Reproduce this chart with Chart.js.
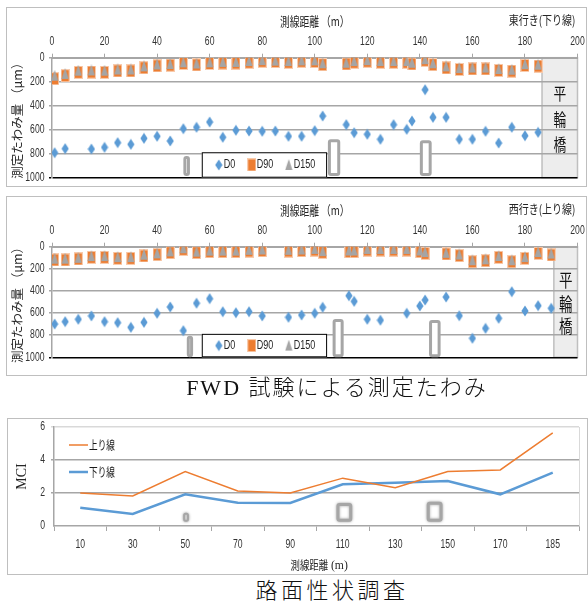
<!DOCTYPE html>
<html>
<head>
<meta charset="utf-8">
<script src="https://cdn.jsdelivr.net/npm/chart.js@4.4.1/dist/chart.umd.min.js"></script>
<style>
  body { margin: 0; background: #fff; width: 588px; height: 605px; position: relative; overflow: hidden; }
  .panel { position: absolute; border: 1px solid #BFBFBF; box-sizing: border-box; }
  canvas { position: absolute; }
  .caption { position: absolute; width: 400px; text-align: center; font-size: 22px; line-height: 24px;
             font-family: "Liberation Serif", "Noto Sans CJK JP", serif; font-weight: 300; color: #111; white-space: nowrap; }
</style>
</head>
<body>
<div class="panel" style="left:6px;top:7px;width:581px;height:180px"></div>
<canvas id="east" width="580" height="180" style="left:6px;top:7px"></canvas>
<div class="panel" style="left:6px;top:196px;width:581px;height:180px"></div>
<canvas id="west" width="580" height="180" style="left:6px;top:196px"></canvas>
<div class="caption" style="left:137px;top:376px;letter-spacing:2px">FWD 試験による測定たわみ</div>
<div class="panel" style="left:7px;top:418px;width:581px;height:157px"></div>
<canvas id="mci" width="580" height="157" style="left:7px;top:418px"></canvas>
<div class="caption" style="left:132px;top:579px;letter-spacing:3.5px">路面性状調査</div>

<script>
// ---- 東行き(下り線) ----
const eastD0X = [1, 5, 15, 20, 25, 30, 35, 40, 45, 50, 55, 60, 65, 70, 75, 80, 85, 90, 95, 100,
                 103, 112, 115, 120, 125, 130, 135, 137, 142, 145, 150, 155, 160, 165, 170, 175, 180, 185];
const eastD0 = [792, 758, 761, 747, 708, 722, 672, 655, 694, 592, 580, 536, 663, 605, 611, 613, 611, 655, 655, 608,
                486, 558, 625, 638, 680, 558, 597, 528, 267, 497, 497, 680, 680, 613, 711, 580, 650, 622];
const eastDX = [1, 5, 10, 15, 20, 25, 30, 35, 40, 45, 50, 55, 60, 65, 70, 75, 80, 85, 90, 95, 100,
                103, 112, 115, 120, 125, 130, 135, 137, 142, 145, 150, 155, 160, 165, 170, 175, 180, 185];
const eastD90 = [175, 150, 122, 120, 122, 110, 110, 84, 68, 62, 48, 60, 48, 45, 45, 38, 30, 32, 38, 30, 32,
                 58, 52, 38, 30, 38, 38, 38, 52, 22, 58, 85, 98, 94, 94, 106, 112, 65, 70];
const eastD150 = [150, 135, 108, 106, 108, 98, 98, 72, 56, 52, 38, 48, 38, 35, 35, 28, 20, 24, 28, 22, 22,
                  46, 42, 28, 20, 28, 28, 28, 42, 12, 46, 72, 86, 82, 82, 94, 100, 54, 58];
// gray marks: [x from, x to, y from, y to]
const eastMarks = [[50, 52.5, 820, 985], [105, 109.7, 680, 985], [140, 144.5, 688, 985]];
const eastBridgeFrom = 186.5;

// ---- 西行き(上り線) ----
const westD0X = [1, 5, 10, 15, 20, 25, 30, 35, 40, 45, 50, 55, 60, 65, 70, 75, 80, 90, 95, 100,
                 103, 113, 115, 120, 125, 135, 140, 142, 150, 155, 160, 165, 170, 175, 180, 185, 190];
const westD0 = [699, 678, 656, 626, 678, 687, 729, 684, 602, 545, 759, 511, 470, 588, 597, 588, 626, 638, 618, 602,
                548, 443, 494, 656, 665, 602, 536, 482, 455, 624, 828, 738, 647, 407, 581, 533, 557];
const westDX = [1, 5, 10, 15, 20, 25, 30, 35, 40, 45, 50, 55, 60, 65, 70, 75, 80, 90, 95, 100,
                103, 113, 115, 120, 125, 130, 135, 140, 142, 150, 155, 160, 165, 170, 175, 180, 185, 190];
const westD90 = [120, 120, 111, 96, 96, 105, 105, 84, 72, 54, 24, 54, 45, 45, 45, 39, 36, 39, 36, 30,
                 51, 45, 45, 30, 30, 30, 30, 45, 60, 66, 81, 136, 127, 96, 136, 105, 60, 75];
const westD150 = [108, 108, 100, 85, 85, 94, 94, 72, 60, 42, 14, 44, 35, 35, 35, 28, 25, 28, 25, 20,
                  40, 34, 34, 20, 20, 20, 20, 34, 48, 55, 70, 122, 114, 84, 122, 94, 48, 62];
const westMarks = [[51.3, 53.7, 805, 1000], [106.8, 111, 654, 1000], [143.5, 147.9, 663, 1000]];
const westBridgeFrom = 191;

const fwdLegendBox = [57, 104.7, 788, 1000];
const bridgeName = ['平', '輪', '橋'];

// ---- 路面性状調査 ----
const mciLabels = ['10', '30', '50', '70', '90', '110', '130', '150', '170', '185'];
const mciUp = [2.0, 1.82, 3.3, 2.12, 2.0, 2.9, 2.32, 3.3, 3.4, 5.65];
const mciDown = [1.1, 0.73, 1.92, 1.41, 1.4, 2.53, 2.62, 2.72, 1.92, 3.23];
const mciMarks = [[1.96, 2.07, 0.26, 0.81], [4.88, 5.18, 0.26, 1.39], [6.6, 6.9, 0.26, 1.47]];

const BLUE = '#5B9BD5', ORANGE = '#ED7D31', GRAY = '#A5A5A5';
const JP = '"Noto Sans CJK JP", sans-serif';
const NUM = '"Liberation Sans", Arial, sans-serif';

Chart.defaults.font.family = NUM;
Chart.defaults.font.size = 12;
Chart.defaults.color = '#333333';
Chart.defaults.animation = false;

function makeMarker(kind) {
    const c = document.createElement('canvas');
    const g = c.getContext('2d');
    if (kind === 'diamond') {
        c.width = 8; c.height = 12;
        g.fillStyle = BLUE;
        g.beginPath(); g.moveTo(4, 0.5); g.lineTo(7.6, 6); g.lineTo(4, 11.5); g.lineTo(0.4, 6); g.closePath(); g.fill();
    } else if (kind === 'square') {
        c.width = 9; c.height = 13;
        g.fillStyle = '#F8CBAD'; g.fillRect(0, 0, 9, 13);
        g.fillStyle = ORANGE; g.fillRect(1, 1, 7, 11);
    } else {
        c.width = 8; c.height = 12;
        g.fillStyle = GRAY;
        g.beginPath(); g.moveTo(4, 0); g.lineTo(7.6, 11); g.lineTo(0.4, 11); g.closePath(); g.fill();
    }
    return c;
}
const diamond = makeMarker('diamond');
const square = makeMarker('square');
const triangle = makeMarker('triangle');

// draws horizontally squeezed text (the source figure is narrow)
function squeezeText(ctx, text, x, y, font, color, align, sx) {
    ctx.save();
    ctx.font = font;
    ctx.fillStyle = color;
    ctx.textBaseline = 'middle';
    ctx.textAlign = 'left';
    const w = ctx.measureText(text).width * sx;
    const left = align === 'center' ? x - w / 2 : align === 'right' ? x - w : x;
    ctx.translate(left, y);
    ctx.scale(sx, 1);
    ctx.fillText(text, 0, 0);
    ctx.restore();
    return w;
}

// tick labels drawn from the scale's own ticks, in a narrow face
function tickLabels(ctx, scale, posFn, align, labelFn) {
    scale.ticks.forEach(t => {
        const p = scale.getPixelForValue(t.value);
        const [px, py] = posFn(p);
        squeezeText(ctx, labelFn(t.value), px, py, '12px ' + NUM, '#333333', align, 0.72);
    });
}

function drawMark(ctx, xs, ys, m, lw) {
    const l = xs.getPixelForValue(m[0]), r = xs.getPixelForValue(m[1]);
    const a = ys.getPixelForValue(m[2]), b = ys.getPixelForValue(m[3]);
    const t = Math.min(a, b), h = Math.abs(b - a);
    ctx.save();
    ctx.fillStyle = '#FFFFFF';
    ctx.strokeStyle = '#A6A6A6';
    ctx.lineWidth = lw;
    ctx.beginPath();
    ctx.roundRect(l + lw / 2, t + lw / 2, r - l - lw, h - lw, 1.5);
    ctx.fill();
    ctx.stroke();
    ctx.restore();
}

function fwdDecor(marks, bridgeFrom, direction, bridgeSize) {
    return {
        id: 'fwdDecor',
        beforeDraw(chart) {
            const {ctx, chartArea: a, scales: {x}} = chart;
            const bx = x.getPixelForValue(bridgeFrom);
            ctx.save();
            ctx.fillStyle = '#EDEDED';
            ctx.fillRect(bx, a.top, a.right - bx, a.bottom - a.top);
            ctx.strokeStyle = '#BFBFBF';
            ctx.lineWidth = 1.5;
            ctx.strokeRect(bx, a.top, a.right - bx, a.bottom - a.top);
            ctx.restore();
        },
        beforeDatasetsDraw(chart) {
            const {ctx, scales: {x, y}} = chart;
            marks.forEach(m => drawMark(ctx, x, y, m, 3));
        },
        afterDraw(chart) {
            const {ctx, chartArea: a, scales: {x, y}} = chart;
            tickLabels(ctx, x, p => [p, a.top - 16], 'center', v => String(v));
            tickLabels(ctx, y, p => [a.left - 7.5, p], 'right', v => String(v));
            // legend box
            const l = x.getPixelForValue(fwdLegendBox[0]), r = x.getPixelForValue(fwdLegendBox[1]);
            const t = y.getPixelForValue(fwdLegendBox[2]), b = y.getPixelForValue(fwdLegendBox[3]);
            ctx.save();
            ctx.fillStyle = '#FFFFFF';
            ctx.fillRect(l, t, r - l, b - t);
            ctx.strokeStyle = '#000000';
            ctx.lineWidth = 1;
            ctx.strokeRect(l + 0.5, t + 0.5, r - l - 1, b - t - 1);
            ctx.restore();
            const cy = (t + b) / 2;
            const items = [[diamond, 'D0', 17], [square, 'D90', 50], [triangle, 'D150', 87]];
            items.forEach(([img, name, dx]) => {
                ctx.drawImage(img, l + dx - img.width / 2, cy - img.height / 2);
                squeezeText(ctx, name, l + dx + 5, cy, '12px ' + NUM, '#262626', 'left', 0.75);
            });
            // bridge label
            const bx = (x.getPixelForValue(bridgeFrom) + a.right) / 2;
            const h = a.bottom - a.top;
            [0.30, 0.515, 0.72].forEach((f, i) => {
                squeezeText(ctx, bridgeName[i], bx, a.top + h * f, bridgeSize + 'px ' + JP, '#111111', 'center', 0.75);
            });
            // top titles
            squeezeText(ctx, '測線距離 （m）', (a.left + a.right) / 2, a.top - 37, '13px ' + JP, '#262626', 'center', 0.75);
            squeezeText(ctx, direction, a.right - 2, a.top - 37, '12.5px ' + JP, '#262626', 'right', 0.8);
        }
    };
}

const pts = (xs, ys) => xs.map((v, i) => ({x: v, y: ys[i]}));

function fwdChart(id, d0x, d0, dx, d90, d150, marks, bridgeFrom, direction, bottomPad, bridgeSize) {
    new Chart(document.getElementById(id), {
        type: 'scatter',
        data: {
            datasets: [
                {label: 'D0', data: pts(d0x, d0), pointStyle: diamond, pointRadius: 5, order: 2},
                {label: 'D90', data: pts(dx, d90), pointStyle: square, pointRadius: 5, order: 1},
                {label: 'D150', data: pts(dx, d150), pointStyle: triangle, pointRadius: 5, order: 0}
            ]
        },
        options: {
            responsive: false,
            devicePixelRatio: 1,
            layout: {padding: {left: 0, top: 0, right: 8.5, bottom: bottomPad}},
            plugins: {legend: {display: false}, tooltip: {enabled: false}},
            scales: {
                x: {
                    type: 'linear', position: 'top', min: 0, max: 200,
                    ticks: {stepSize: 20, display: false},
                    grid: {drawOnChartArea: false, tickLength: 4, color: '#A6A6A6'},
                    border: {color: '#A6A6A6', width: 2},
                    afterFit: s => { s.height = 50.7; }
                },
                y: {
                    reverse: true, min: 0, max: 1000,
                    ticks: {stepSize: 200, display: false},
                    grid: {
                        color: c => (c.tick && c.tick.value === 1000) ? '#000000' : '#A6A6A6',
                        lineWidth: 1.5, tickLength: 3
                    },
                    border: {color: '#A6A6A6', width: 1.5},
                    title: {display: true, text: '測定たわみ量 （μm）', color: '#262626',
                            font: {family: JP, size: 12.5}, padding: {top: 4, bottom: 0}},
                    afterFit: s => { s.width = 46; }
                }
            }
        },
        plugins: [fwdDecor(marks, bridgeFrom, direction, bridgeSize)]
    });
}

fwdChart('east', eastD0X, eastD0, eastDX, eastD90, eastD150, eastMarks, eastBridgeFrom, '東行き(下り線)', 9.3, 17);
fwdChart('west', westD0X, westD0, westDX, westD90, westD150, westMarks, westBridgeFrom, '西行き(上り線)', 18.7, 18);

// ---- MCI chart ----
const mciDecor = {
    id: 'mciDecor',
    beforeDatasetsDraw(chart) {
        const {ctx, scales: {x, y}} = chart;
        ctx.save();
        ctx.shadowColor = 'rgba(0,0,0,0.35)';
        ctx.shadowBlur = 3;
        mciMarks.forEach((m, i) => drawMark(ctx, x, y, m, i === 0 ? 2 : 3));
        ctx.restore();
    },
    afterDraw(chart) {
        const {ctx, chartArea: a, scales: {x, y}} = chart;
        tickLabels(ctx, x, p => [p, a.bottom + 19], 'center', v => mciLabels[v]);
        tickLabels(ctx, y, p => [a.left - 9, p], 'right', v => String(v));
        ctx.save();
        ctx.strokeStyle = '#D9D9D9';
        ctx.lineWidth = 1;
        ctx.beginPath();
        ctx.moveTo(a.right + 0.5, a.top);
        ctx.lineTo(a.right + 0.5, a.bottom);
        ctx.stroke();
        // legend
        [[ORANGE, 1.5, '上り線', 27], [BLUE, 2.5, '下り線', 54]].forEach(([col, w, name, yy]) => {
            ctx.strokeStyle = col;
            ctx.lineWidth = w;
            ctx.beginPath();
            ctx.moveTo(a.left + 15, a.top + yy - 9);
            ctx.lineTo(a.left + 34, a.top + yy - 9);
            ctx.stroke();
            squeezeText(ctx, name, a.left + 35, a.top + yy - 9, '12px ' + JP, '#1A1A1A', 'left', 0.72);
        });
        ctx.restore();
        // x title
        const cx = (a.left + a.right) / 2 + 4;
        const ty = a.bottom + 39;
        const w1 = squeezeText(ctx, '測線距離', cx - 30, ty, '12.5px ' + JP, '#262626', 'left', 0.75);
        squeezeText(ctx, ' (m)', cx - 30 + w1, ty + 1, '13px "Liberation Serif", serif', '#262626', 'left', 0.9);
    }
};

new Chart(document.getElementById('mci'), {
    type: 'line',
    data: {
        labels: mciLabels,
        datasets: [
            {label: '上り線', data: mciUp, borderColor: ORANGE, borderWidth: 1.5, pointRadius: 0, tension: 0},
            {label: '下り線', data: mciDown, borderColor: BLUE, borderWidth: 2.5, pointRadius: 0, tension: 0}
        ]
    },
    options: {
        responsive: false,
        devicePixelRatio: 1,
        layout: {padding: {left: 0, top: 9, right: 8, bottom: 0}},
        plugins: {legend: {display: false}, tooltip: {enabled: false}},
        scales: {
            x: {
                type: 'category', offset: true,
                ticks: {display: false},
                grid: {offset: true, drawOnChartArea: false, tickLength: 5, color: '#A6A6A6'},
                border: {color: '#A6A6A6', width: 1.5},
                afterFit: s => { s.height = 49; }
            },
            y: {
                min: 0, max: 6,
                ticks: {stepSize: 2, display: false},
                grid: {
                    color: c => {
                        const v = c.tick ? c.tick.value : 0;
                        return v === 6 ? '#D9D9D9' : v === 0 ? 'rgba(0,0,0,0)' : '#A6A6A6';
                    },
                    lineWidth: 1.5, tickLength: 3
                },
                border: {color: '#A6A6A6', width: 1.5},
                title: {display: true, text: 'MCI', color: '#262626',
                        font: {family: '"Liberation Serif", serif', size: 14}, padding: {top: 7, bottom: 0}},
                afterFit: s => { s.width = 47; }
            }
        }
    },
    plugins: [mciDecor]
});
</script>
</body>
</html>
